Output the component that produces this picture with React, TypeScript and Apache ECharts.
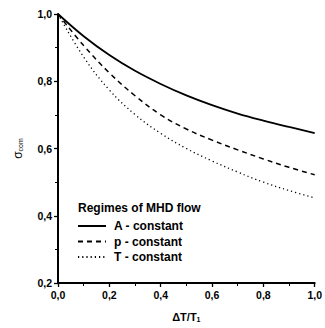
import React, { useEffect, useRef } from "react";
import * as echarts from "echarts";

const xValues = [0, 0.1, 0.2, 0.3, 0.4, 0.5, 0.6, 0.7, 0.8, 0.9, 1.0];
const aConstant = [1.0, 0.934, 0.878, 0.831, 0.792, 0.758, 0.729, 0.704, 0.683, 0.664, 0.646];
const pConstant = [1.0, 0.906, 0.825, 0.757, 0.7, 0.658, 0.625, 0.596, 0.569, 0.544, 0.522];
const tConstant = [1.0, 0.872, 0.774, 0.701, 0.645, 0.6, 0.563, 0.53, 0.5, 0.475, 0.453];
const seriesNames = ["A - constant", "p - constant", "T - constant"];
const legendTitle = "Regimes of MHD flow";

const FONT = "Liberation Sans, Arial, sans-serif";

export default function App() {
  const ref = useRef<HTMLDivElement>(null);
  useEffect(() => {
    const chart = echarts.init(ref.current!, null, { renderer: "svg" });
    const fmt = (v: number) => v.toFixed(1).replace(".", ",");
    const mk = (vals: number[]) => xValues.map((x, i) => [x, vals[i]]);
    const lineTypes: any[] = ["solid", [5, 4], [1.2, 3]];
    const widths = [1.8, 1.5, 1.3];
    chart.setOption({
      animation: false,
      backgroundColor: "#fff",
      grid: { left: 58, right: 9, top: 14, bottom: 45 },
      graphic: [
        {
          type: "text",
          left: 78,
          top: 202,
          style: { text: legendTitle, font: `bold 12px ${FONT}`, fill: "#000" },
        },
      ],
      legend: {
        orient: "vertical",
        left: 72,
        top: 215,
        itemGap: 3.5,
        itemWidth: 28,
        itemHeight: 12,
        itemStyle: { opacity: 0 },
        textStyle: {
          fontFamily: FONT,
          fontSize: 12,
          lineHeight: 12,
          fontWeight: "bold",
          color: "#000",
          padding: [0, 0, 0, 3],
        },
        data: seriesNames,
      },
      xAxis: {
        type: "value",
        min: 0,
        max: 1,
        interval: 0.2,
        name: "ΔT/T{s|1}",
        nameLocation: "middle",
        nameGap: 27,
        nameTextStyle: {
          fontFamily: FONT,
          fontSize: 11,
          fontWeight: "bold",
          color: "#000",
          rich: { s: { fontFamily: FONT, fontSize: 7, fontWeight: "bold", verticalAlign: "bottom", padding: [6, 0, 0, 0] } },
        },
        axisLine: { lineStyle: { color: "#000", width: 2 } },
        axisTick: { show: true, length: 4, lineStyle: { color: "#000", width: 1.3 } },
        minorTick: { show: true, splitNumber: 2, length: 3, lineStyle: { color: "#000", width: 1 } },
        splitLine: { show: false },
        axisLabel: { formatter: fmt, fontFamily: FONT, fontSize: 10.5, fontWeight: "bold", color: "#000", margin: 6 },
      },
      yAxis: {
        type: "value",
        min: 0.2,
        max: 1,
        interval: 0.2,
        name: "σ{s|com}",
        nameLocation: "middle",
        nameRotate: 90,
        nameGap: 34,
        nameTextStyle: {
          fontFamily: FONT,
          fontSize: 12,
          color: "#000",
          rich: { s: { fontFamily: FONT, fontSize: 7, verticalAlign: "bottom", padding: [6, 0, 0, 0] } },
        },
        axisLine: { show: true, lineStyle: { color: "#000", width: 2 } },
        axisTick: { show: true, length: 4, lineStyle: { color: "#000", width: 1.3 } },
        minorTick: { show: true, splitNumber: 2, length: 3, lineStyle: { color: "#000", width: 1 } },
        splitLine: { show: false },
        axisLabel: { formatter: fmt, fontFamily: FONT, fontSize: 10.5, fontWeight: "bold", color: "#000", margin: 6 },
      },
      series: [aConstant, pConstant, tConstant].map((vals, i) => ({
        name: seriesNames[i],
        type: "line",
        data: mk(vals),
        smooth: 0.4,
        showSymbol: false,
        symbol: "none",
        lineStyle: { color: "#000", width: widths[i], type: lineTypes[i] },
        itemStyle: { color: "#000" },
      })),
    });
    return () => chart.dispose();
  }, []);
  return <div ref={ref} style={{ width: 325, height: 328, position: "absolute", left: 0, top: 0 }} />;
}
